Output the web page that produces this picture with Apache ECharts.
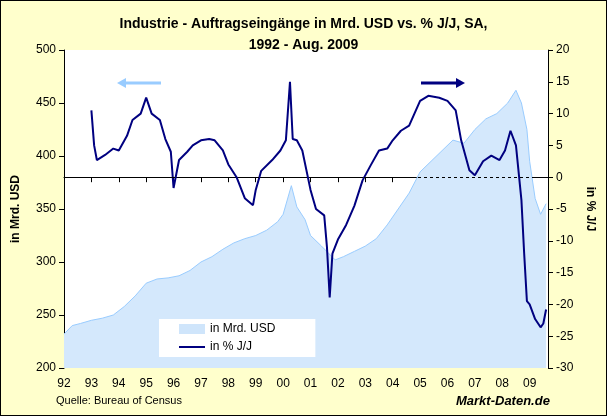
<!DOCTYPE html>
<html><head><meta charset="utf-8">
<script src="https://cdn.jsdelivr.net/npm/echarts@6/dist/echarts.min.js"></script>
<style>body{margin:0}#main{width:607px;height:416px;box-sizing:border-box;border:1px solid #000}</style>
</head><body><div id="main"></div>
<script>
// Auftragseingänge in Mrd. USD (Jahr als Dezimalzahl)
var usdTime = [1992.0,1992.3,1992.6,1993.0,1993.4,1993.8,1994.2,1994.6,1995.0,1995.4,1995.8,1996.2,1996.6,1997.0,1997.4,1997.8,1998.2,1998.6,1999.0,1999.4,1999.8,2000.0,2000.3,2000.5,2000.8,2001.0,2001.4,2001.9,2002.2,2002.6,2003.0,2003.4,2003.8,2004.2,2004.6,2005.0,2005.4,2005.8,2006.2,2006.6,2007.0,2007.4,2007.8,2008.2,2008.5,2008.7,2008.9,2009.0,2009.2,2009.4,2009.6];
var usdValues = [232,240,242,245,247,250,258,268,280,284,285,287,292,300,305,312,318,322,325,330,338,345,372,352,340,325,315,302,305,310,315,322,335,350,365,385,395,405,415,412,425,435,440,450,462,450,425,395,360,345,355];
// Veränderung in % J/J
var pctTime = [1993.0,1993.1,1993.2,1993.5,1993.8,1994.0,1994.3,1994.5,1994.8,1995.0,1995.2,1995.5,1995.7,1995.9,1996.0,1996.2,1996.5,1996.7,1997.0,1997.3,1997.5,1997.8,1998.0,1998.3,1998.6,1998.9,1999.0,1999.2,1999.6,1999.9,2000.1,2000.25,2000.35,2000.5,2000.7,2001.0,2001.2,2001.5,2001.6,2001.7,2001.8,2002.0,2002.3,2002.6,2002.9,2003.2,2003.5,2003.8,2004.0,2004.3,2004.6,2005.0,2005.3,2005.7,2006.0,2006.3,2006.5,2006.8,2007.0,2007.3,2007.6,2007.9,2008.1,2008.3,2008.5,2008.7,2008.8,2008.9,2009.0,2009.2,2009.4,2009.5,2009.6];
var pctValues = [10.5,5,2.7,3.5,4.5,4.2,6.5,9,10,12.5,10,9,6,4,-1.7,2.7,4,5,5.8,6,5.8,4.2,2,0,-3.3,-4.4,-2,1,2.7,4.2,5.8,15,6,5.8,4.2,-2,-5,-6,-11,-18.9,-12,-9.8,-7.5,-4.5,-0.5,1.9,4.2,4.5,5.8,7.3,8.1,12,12.8,12.5,12,10.5,5.8,1.1,0.3,2.5,3.4,2.7,4.2,7.3,5,-3.6,-12,-19.5,-20,-22.3,-23.6,-23,-20.8];
var yearLabels = ['92','93','94','95','96','97','98','99','00','01','02','03','04','05','06','07','08','09'];

function pairs(t, v){ return t.map(function(x,i){ return [x, v[i]]; }); }

var myChart = echarts.init(document.getElementById('main'));
var f = 'Arial, "Liberation Sans", sans-serif';
myChart.setOption({
    backgroundColor: '#ffffcc',
    animation: false,
    textStyle: {fontFamily: f},
    title: {
        text: 'Industrie - Auftragseingänge in Mrd. USD vs. % J/J, SA,\n1992 - Aug. 2009',
        left: 'center', top: 8,
        textStyle: {fontSize: 14, fontWeight: 'bold', color: '#000', lineHeight: 21, fontFamily: f}
    },
    grid: {left: 63, right: 58, top: 49, bottom: 47, show: true, backgroundColor: '#fff', borderWidth: 0},
    legend: {
        orient: 'vertical', left: 158, top: 318, itemGap: 6, itemWidth: 26, itemHeight: 10,
        backgroundColor: '#fff', padding: [4, 40, 4, 20],
        textStyle: {fontSize: 12, color: '#000'},
        data: [{name: 'in Mrd. USD', icon: 'rect'}, {name: 'in % J/J', icon: 'path://M0,0H26V2H0Z'}]
    },
    xAxis: {
        type: 'value', min: 1992, max: 2009.67, interval: 1,
        axisLine: {lineStyle: {color: '#000'}},
        axisTick: {lineStyle: {color: '#000'}},
        splitLine: {show: false},
        axisLabel: {color: '#000', fontSize: 12, margin: 10, showMaxLabel: false,
            formatter: function (v) { return yearLabels[Math.round(v - 1992)] || ''; }}
    },
    yAxis: [{
        type: 'value', min: 200, max: 500, interval: 50,
        name: 'in Mrd. USD', nameLocation: 'middle', nameGap: 42, nameRotate: 90,
        nameTextStyle: {fontSize: 12, fontWeight: 'bold', color: '#000'},
        axisLine: {show: true, lineStyle: {color: '#000'}},
        axisTick: {show: true, lineStyle: {color: '#000'}},
        splitLine: {show: false},
        axisLabel: {color: '#000', fontSize: 12}
    }, {
        type: 'value', min: -30, max: 20, interval: 5,
        name: 'in % J/J', nameLocation: 'middle', nameGap: 34, nameRotate: -90,
        nameTextStyle: {fontSize: 12, fontWeight: 'bold', color: '#000'},
        axisLine: {show: true, lineStyle: {color: '#000'}},
        axisTick: {show: true, lineStyle: {color: '#000'}},
        splitLine: {show: false},
        axisLabel: {color: '#000', fontSize: 12}
    }],
    series: [{
        name: 'in Mrd. USD', type: 'line', yAxisIndex: 0, symbol: 'none',
        data: pairs(usdTime, usdValues),
        lineStyle: {color: '#99ccff', width: 1},
        itemStyle: {color: '#cfe5fb'},
        areaStyle: {color: '#d4e8fc', opacity: 1}
    }, {
        name: 'in % J/J', type: 'line', yAxisIndex: 1, symbol: 'none',
        data: pairs(pctTime, pctValues),
        lineStyle: {color: '#000080', width: 2},
        itemStyle: {color: '#000080'},
        markLine: {silent: true, symbol: 'none', label: {show: false},
            lineStyle: {color: '#000', type: [3, 3], width: 1},
            data: [{yAxis: 0}]}
    }],
    graphic: [
        {type: 'line', shape: {x1: 160, y1: 82, x2: 122, y2: 82}, style: {stroke: '#99ccff', lineWidth: 3}},
        {type: 'polygon', shape: {points: [[116, 82], [125, 77], [125, 87]]}, style: {fill: '#99ccff'}},
        {type: 'line', shape: {x1: 420, y1: 82, x2: 456, y2: 82}, style: {stroke: '#000080', lineWidth: 3}},
        {type: 'polygon', shape: {points: [[464, 82], [455, 77], [455, 87]]}, style: {fill: '#000080'}},
        {type: 'text', left: 55, top: 394, style: {text: 'Quelle: Bureau of Census', fontSize: 11, fill: '#000', fontFamily: f}},
        {type: 'text', left: 455, top: 394, style: {text: 'Markt-Daten.de', fontSize: 13, fontWeight: 'bold', fontStyle: 'italic', fill: '#000', fontFamily: f}}
    ]
});
</script></body></html>
